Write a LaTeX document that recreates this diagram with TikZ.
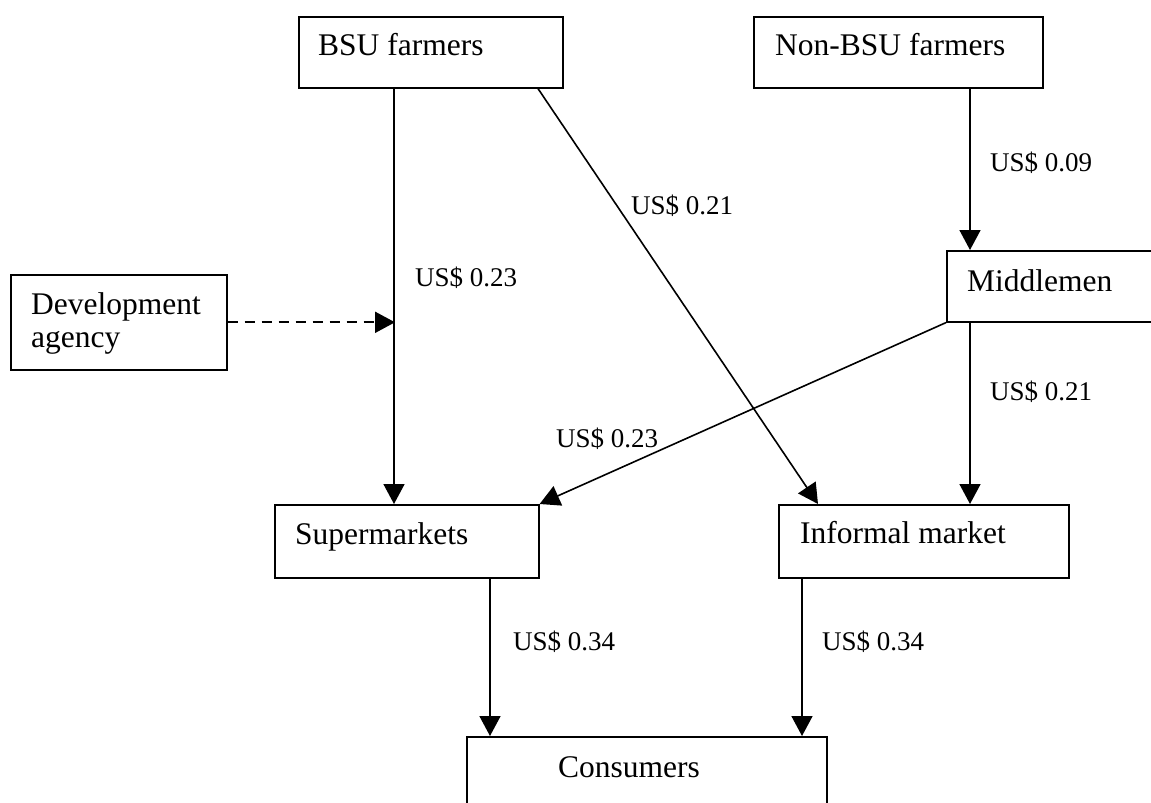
\documentclass[tikz,border=0pt]{standalone}
\usepackage{fontspec}
\setmainfont{Liberation Serif}
\usetikzlibrary{arrows.meta,calc}
\begin{document}
\begin{tikzpicture}[x=1pt,y=-1pt,
  box/.style={draw,line width=1.6pt,rectangle,inner sep=0pt,anchor=north west},
  boxtext/.style={anchor=base west,inner sep=0pt,font=\fontsize{31.5}{34}\selectfont},
  price/.style={anchor=base west,inner sep=0pt,font=\fontsize{27}{30}\selectfont},
  arr/.style={line width=1.6pt,-{Triangle[length=20pt,width=21pt]}},
  darr/.style={line width=2pt,dash pattern=on 10pt off 7pt,-{Triangle[length=20pt,width=21pt]}}]
\useasboundingbox (0,0) rectangle (1151,803);
\clip (0,0) rectangle (1151,803);
% boxes
\node[box,minimum width=264pt,minimum height=71pt] (bsu) at (298,16) {};
\node[box,minimum width=289pt,minimum height=71pt] (nonbsu) at (753,16) {};
\node[box,minimum width=230pt,minimum height=71pt] (middle) at (946,250) {};
\node[box,minimum width=216pt,minimum height=95pt] (dev) at (10,274) {};
\node[box,minimum width=264pt,minimum height=73pt] (super) at (274,504) {};
\node[box,minimum width=290pt,minimum height=73pt] (informal) at (778,504) {};
\node[box,minimum width=360pt,minimum height=90pt] (cons) at (466,736) {};
% box texts
\node[boxtext] (tbsu) at ($(bsu.north west)+(20,39)$) {BSU farmers};
\node[boxtext] (tnonbsu) at ($(nonbsu.north west)+(22,39)$) {Non-BSU farmers};
\node[boxtext] (tmiddle) at ($(middle.north west)+(21,41)$) {Middlemen};
\node[boxtext] (tdev1) at ($(dev.north west)+(21,40)$) {Development};
\node[boxtext] (tdev2) at ($(dev.north west)+(21,73)$) {agency};
\node[boxtext] (tsuper) at ($(super.north west)+(21,40)$) {Supermarkets};
\node[boxtext] (tinformal) at ($(informal.north west)+(22,39)$) {Informal market};
\node[boxtext] (tcons) at ($(cons.north west)+(92,41)$) {Consumers};
% connectors
\coordinate (bsuout) at ([xshift=96pt]bsu.south west);
\draw[arr] (bsuout) -- (bsuout |- super.north);
\draw[arr] ([xshift=240pt]bsu.south west) -- ([xshift=40pt]informal.north west);
\coordinate (nbout) at ([xshift=217pt]nonbsu.south west);
\draw[arr] (nbout) -- (nbout |- middle.north);
\coordinate (midout) at ([xshift=24pt]middle.south west);
\draw[arr] (midout) -- (midout |- informal.north);
\draw[arr] (middle.south west) -- (super.north east);
\coordinate (devtarget) at (bsuout |- dev.east);
\draw[darr] (dev.east) -- ([xshift=1pt]devtarget);
\coordinate (supout) at ([xshift=216pt]super.south west);
\draw[arr] (supout) -- (supout |- cons.north);
\coordinate (infout) at ([xshift=24pt]informal.south west);
\draw[arr] (infout) -- (infout |- cons.north);
% prices
\node[price] (p1) at (415,286) {US\$ 0.23};
\node[price] (p2) at (631,214) {US\$ 0.21};
\node[price] (p3) at (990,171) {US\$ 0.09};
\node[price] (p4) at (990,400) {US\$ 0.21};
\node[price] (p5) at (556,447) {US\$ 0.23};
\node[price] (p6) at (513,650) {US\$ 0.34};
\node[price] (p7) at (822,650) {US\$ 0.34};
\end{tikzpicture}
\end{document}
